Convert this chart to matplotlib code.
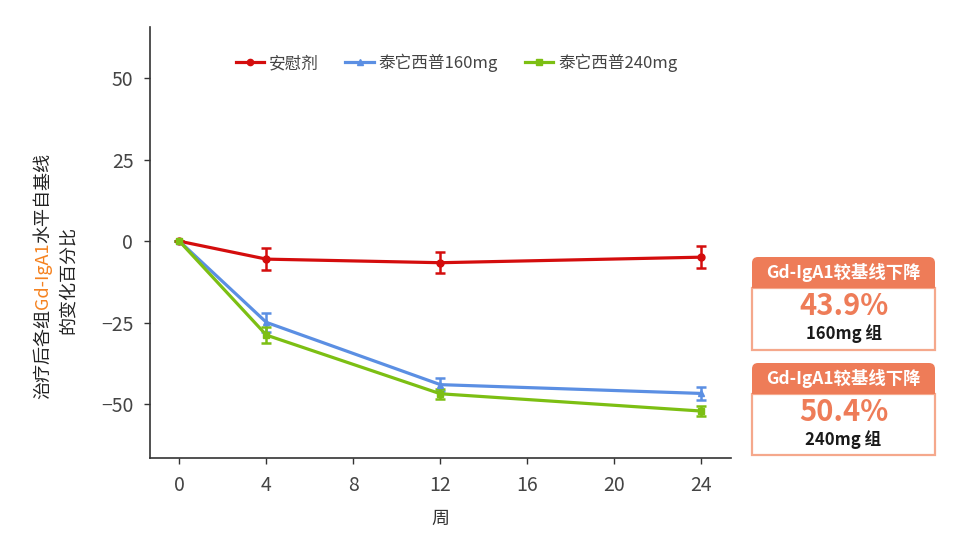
import matplotlib
matplotlib.use("Agg")
import matplotlib.pyplot as plt
from matplotlib.patches import Rectangle, FancyBboxPatch
from matplotlib.lines import Line2D

plt.rcParams['font.family'] = ['Noto Sans CJK SC', 'DejaVu Sans']

# ---------------- data ----------------
weeks = [0, 4, 12, 24]
placebo = [0, -5.5, -6.6, -4.9]
placebo_err = [0, 3.4, 3.2, 3.4]
t160 = [0, -24.9, -44.0, -46.7]
t160_err = [0, 2.8, 2.0, 2.0]
t240 = [0, -28.8, -46.8, -52.1]
t240_err = [0, 2.4, 1.5, 1.5]
series_names = ["安慰剂", "泰它西普160mg", "泰它西普240mg"]
xticks = [0, 4, 8, 12, 16, 20, 24]
yticks = [50, 25, 0, -25, -50]
box_pcts = ["43.9%", "50.4%"]
box_groups = ["160mg 组", "240mg 组"]
box_title = "Gd-IgA1较基线下降"

W, H = 960, 534
fig = plt.figure(figsize=(W / 100, H / 100), dpi=100)

def fx(px):
    return px / W

def fy(py):
    return 1 - py / H

ax = fig.add_axes([fx(150), fy(458), fx(731) - fx(150), fy(27) - fy(458)])

colors = ['#d40d0d', '#5b8fe3', '#7cbf13']
markers = ['o', '^', 's']
data = [(placebo, placebo_err), (t160, t160_err), (t240, t240_err)]
handles = []
for (vals, err), c, m, name in zip(data, colors, markers, series_names):
    ax.errorbar(weeks, vals, yerr=err, color=c, marker=m, markersize=5,
                linewidth=2.3, elinewidth=1.8, capsize=3.5, capthick=1.8)
    handles.append(Line2D([], [], color=c, marker=m, markersize=4.5,
                          linewidth=2.3, label=name))

ax.set_xlim(-1.35, 25.36)
ax.set_ylim(-66.5, 65.7)
ax.set_xticks(xticks)
ax.set_yticks(yticks)
ax.set_yticklabels(["50", "25", "0", "\u221225", "\u221250"])
for s in ['top', 'right']:
    ax.spines[s].set_visible(False)
for s in ['left', 'bottom']:
    ax.spines[s].set_color('#333333')
    ax.spines[s].set_linewidth(1.2)
ax.tick_params(axis='both', direction='out', length=4, width=1, colors='#333333',
               labelsize=14, labelcolor='#444444', pad=8)

ax.set_xlabel("周", fontsize=13, color='#333333', labelpad=10)

leg = ax.legend(handles=handles, loc='center', bbox_to_anchor=(0.5275, 0.9165),
                ncol=3, frameon=False, fontsize=12, handlelength=1.7,
                columnspacing=1.6, handletextpad=0.3, labelcolor='#444444')

# ---------------- multi-coloured y label ----------------
fig.canvas.draw()
r = fig.canvas.get_renderer()

def stacked_vertical(pieces, xpx, ycenter_px, size):
    texts = []
    heights = []
    for s, c in pieces:
        t = fig.text(fx(xpx), 0, s, rotation=90, ha='center', va='bottom',
                     fontsize=size, color=c)
        bb = t.get_window_extent(renderer=r)
        texts.append(t)
        heights.append(bb.height)
    total = sum(heights)
    ybot = (H - ycenter_px) - total / 2
    for t, h in zip(texts, heights):
        t.set_y(ybot / H)
        ybot += h

stacked_vertical([("治疗后各组", '#222222'), ("Gd-IgA1", '#f5821f'), ("水平自基线", '#222222')],
                 43, 276, 13)
stacked_vertical([("的变化百分比", '#222222')], 68, 280, 13)

# ---------------- summary boxes ----------------
head_col = '#ee7c58'
border_col = '#f5a88c'
boxes = [(257, 288, 350), (363, 394, 455)]
x0, x1 = 752, 935
for (top, hb, bot), pct, grp in zip(boxes, box_pcts, box_groups):
    body = Rectangle((fx(x0), fy(bot)), fx(x1) - fx(x0), fy(hb) - fy(bot),
                     transform=fig.transFigure, facecolor='white',
                     edgecolor=border_col, linewidth=1.6)
    fig.patches.append(body)
    head = FancyBboxPatch((x0, H - hb), x1 - x0, hb - top,
                          boxstyle="round,pad=0,rounding_size=6",
                          transform=None, facecolor=head_col, edgecolor='none')
    fig.patches.append(head)
    sq = Rectangle((x0, H - hb), x1 - x0, (hb - top) / 2, transform=None,
                   facecolor=head_col, edgecolor='none')
    fig.patches.append(sq)
    cx = fx((x0 + x1) / 2)
    fig.text(cx, fy((top + hb) / 2), box_title, ha='center', va='center',
             fontsize=12.5, color='white', fontweight='bold')
    fig.text(cx, fy(hb + 18), pct, ha='center', va='center',
             fontsize=21, color=head_col, fontweight='bold')
    fig.text(cx, fy(hb + 46), grp, ha='center', va='center',
             fontsize=12, color='#1a1a1a', fontweight='bold')

fig.savefig("out.png", dpi=100)
